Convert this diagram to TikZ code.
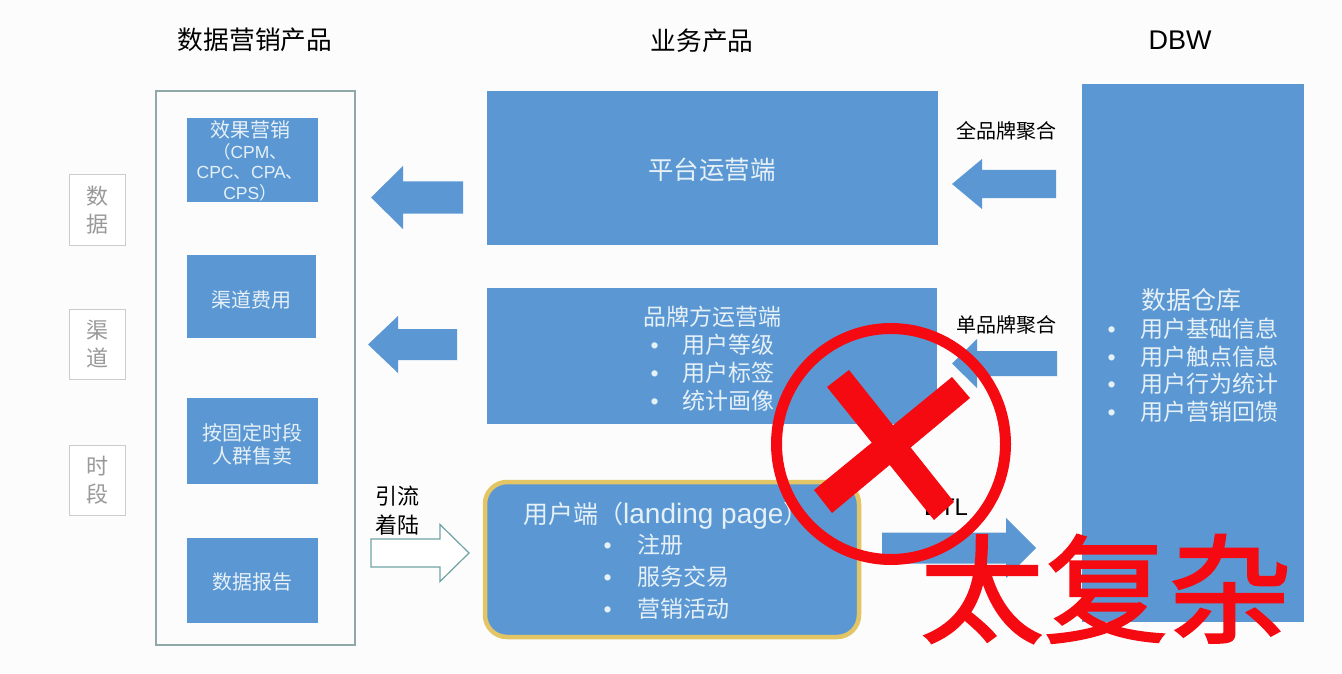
\documentclass[tikz,border=0pt]{standalone}
\usepackage{fontspec}
\setmainfont{Noto Sans CJK SC}
\newfontfamily\latinface{Liberation Sans}
\newfontfamily\stampface[FakeBold=1.8]{Noto Sans CJK SC}
\definecolor{barblue}{HTML}{5B98D3}
\definecolor{softwhite}{HTML}{E6F0F7}
\definecolor{framegray}{HTML}{8FA8A8}
\definecolor{tabgray}{HTML}{CCCCCC}
\definecolor{goldline}{HTML}{E3C565}
\definecolor{hollowline}{HTML}{6FA3A3}
\definecolor{stampred}{HTML}{F40A10}
\newcommand{\fs}[1]{\fontsize{#1}{#1}\selectfont}
\newcommand{\dotmark}{{\latinface •}}
\newcommand{\dotlist}[2]{\begin{tabular}{@{}l@{\hspace{#1pt}}l@{}}#2\end{tabular}}
\tikzset{
    bluebox/.style={fill=barblue, inner sep=0pt, text=softwhite, align=center},
    boxtext/.style={text=softwhite, align=center},
    sidetab/.style={draw=tabgray, line width=1pt, fill=white, minimum width=56pt, minimum height=70pt, inner sep=0pt, align=center, text=gray!80, font=\fontsize{22}{28}\selectfont},
    bluearrow/.style={fill=barblue},
    pics/bigarrow/.style n args={4}{code={
        \path [pic actions] (0, 0) -- (-#2, -#4) -- (-#2, -#3) -- (-#1, -#3) -- (-#1, #3) -- (-#2, #3) -- (-#2, #4) -- cycle;
    }}
}
\begin{document}
\begin{tikzpicture}
            [x=1pt,y=-1pt]
            \path [use as bounding box, fill=white!99!black] (0, 0) rectangle (1342, 674);
            % headers
            \node (headleft) at (255, 40) {\fs{25.7}数据营销产品};
            \node (headmid) at (702, 41) {\fs{25.7}业务产品};
            \node (headright) at (1180, 40) {\fs{27}\latinface DBW};
            % left column
            \node [draw=framegray, line width=1.3pt, minimum width=199pt, minimum height=554pt] (frame) at (255.5, 368) {};
            \node [sidetab] (tabdata) at (97, 210) {数\\据};
            \node [sidetab] (tabchannel) at (97, 344) {渠\\道};
            \node [sidetab] (tabtime) at (97, 480) {时\\段};
            \node [bluebox, minimum width=131pt, minimum height=84pt] (effect) at (252.5, 160) {};
            \node [boxtext, inner sep=0pt, font=\fontsize{17.5}{20.5}\selectfont] (effecttext) at (250, 161) {{\fs{20}效果营销}\\（{\latinface CPM}、\\{\latinface CPC}、{\latinface CPA}、\\{\latinface CPS}）};
            \node [bluebox, minimum width=129pt, minimum height=83pt] (channel) at (251.5, 296.5) {};
            \node [boxtext] (channeltext) at (251.5, 300) {\fs{20}渠道费用};
            \node [bluebox, minimum width=131pt, minimum height=86pt] (sale) at (252.5, 441) {};
            \node [boxtext, font=\fontsize{20}{23}\selectfont] (saletext) at (252.5, 444) {按固定时段\\人群售卖};
            \node [bluebox, minimum width=131pt, minimum height=85pt] (report) at (252.5, 580.5) {};
            \node [boxtext] (reporttext) at (252.5, 582) {\fs{20}数据报告};
            % middle column
            \node [bluebox, minimum width=451pt, minimum height=154pt] (platform) at (712.5, 168) {};
            \node [boxtext] (platformtext) at (712, 170) {\fs{25.5}平台运营端};
            \node [bluebox, minimum width=450pt, minimum height=136pt] (brand) at (712, 356) {};
            \node [bluebox, rounded corners=22pt, draw=goldline, line width=4.5pt, minimum width=374pt, minimum height=155pt] (user) at (672, 559.5) {};
            \node [boxtext] (brandtitle) at (712, 317) {\fs{23}品牌方运营端};
            \node [boxtext, anchor=west] (brandlist) at (647, 376) {\fontsize{23}{27.5}\selectfont\dotlist{24}{\dotmark&用户等级\\\dotmark&用户标签\\\dotmark&统计画像}};
            \node [boxtext, anchor=west, inner sep=0pt] (usertitle) at (523, 516) {\fs{25}用户端（\fs{28}\latinface landing page\rmfamily\fs{25}）};
            \node [boxtext, anchor=west] (userlist) at (600, 579) {\fontsize{23}{32}\selectfont\dotlist{26}{\dotmark&注册\\\dotmark&服务交易\\\dotmark&营销活动}};
            % right column
            \node [bluebox, minimum width=222pt, minimum height=538pt] (dbw) at (1193, 353) {};
            \node [boxtext] (dbwtitle) at (1191, 300) {\fs{25}数据仓库};
            \node [boxtext, anchor=west] (dbwlist) at (1104, 373) {\fontsize{23}{27}\selectfont\dotlist{25}{\dotmark&用户基础信息\\\dotmark&用户触点信息\\\dotmark&用户行为统计\\\dotmark&用户营销回馈}};
            \node (allbrand) at (1006, 131) {\fs{20}全品牌聚合};
            \node (onebrand) at (1006, 325) {\fs{20}单品牌聚合};
            \node (inflow) at (397, 513) {\fontsize{22}{29}\selectfont\begin{tabular}{@{}c@{}}引流\\着陆\end{tabular}};
            \node (etl) at (946, 507) {\fs{24}\latinface ETL};
            % block arrows
            \pic [bluearrow, rotate=180] (toeffect) at (371, 197.5) {bigarrow={92}{32}{16}{31.5}};
            \pic [bluearrow, rotate=180] (tochannel) at (368, 344.5) {bigarrow={89}{30}{15.5}{28.5}};
            \pic [bluearrow, rotate=180] (toplatform) at (952, 184) {bigarrow={104}{30}{14}{25}};
            \pic [bluearrow, rotate=180] (tobrand) at (952, 363.5) {bigarrow={105}{25}{12.5}{24.5}};
            \pic [bluearrow] (toetl) at (1036, 548) {bigarrow={154}{30}{15.5}{30}};
            \pic [draw=hollowline, line width=1.2pt, fill=white] (landing) at (469, 553) {bigarrow={98}{29}{14}{28.5}};
            % stamp
            \draw [stampred, line width=11pt] (891, 444) ellipse [x radius=114.5pt, y radius=115.5pt];
            \fill [stampred] (849, 370) -- (827, 387) -- (934, 520) -- (954, 502) -- cycle;
            \fill [stampred] (952, 377) -- (970, 398) -- (832, 513) -- (814, 490) -- cycle;
            \node [text=stampred, inner sep=0pt] (verdict) at (1106, 589) {\scalebox{1}[0.95]{\fs{124}\stampface 太复杂}};
        \end{tikzpicture}
\end{document}
